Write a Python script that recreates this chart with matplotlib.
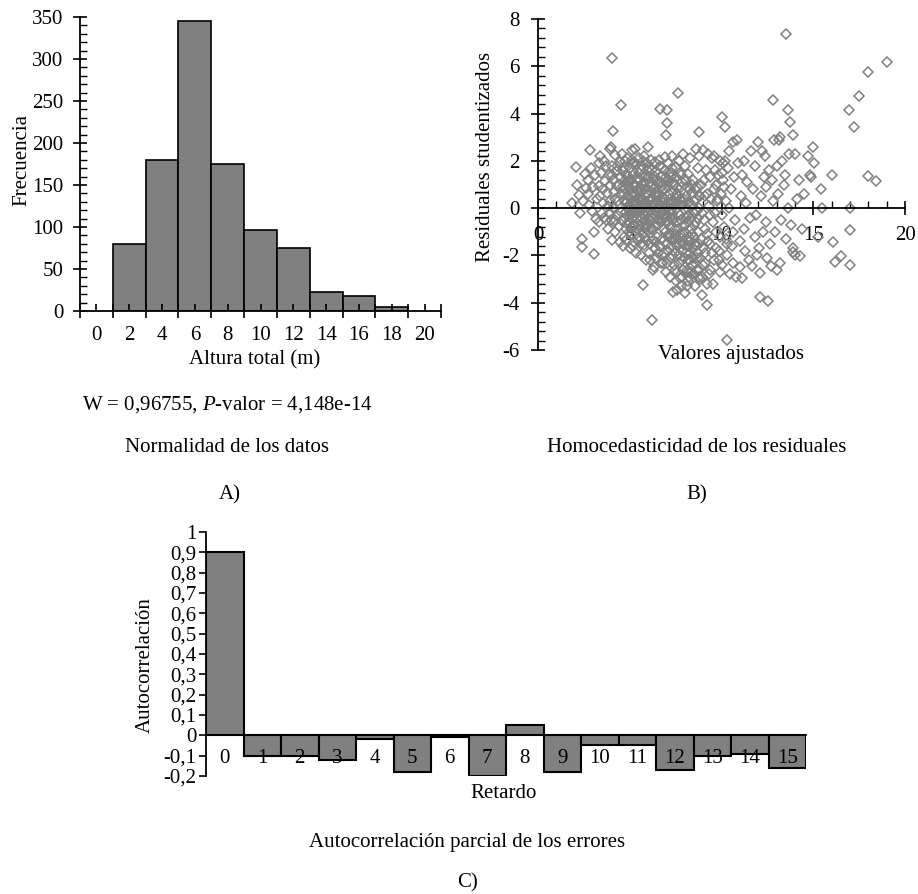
import matplotlib
matplotlib.use("Agg")
import matplotlib.pyplot as plt
from matplotlib.ticker import MultipleLocator

plt.rcParams['font.family'] = ['Liberation Serif', 'DejaVu Serif']
plt.rcParams['axes.unicode_minus'] = False
plt.rcParams['mathtext.fontset'] = 'custom'
plt.rcParams['mathtext.rm'] = 'Liberation Serif'
plt.rcParams['mathtext.it'] = 'Liberation Serif:italic'

# ---------------- data ----------------
# A) histogram of total height
bin_centers = [2, 4, 6, 8, 10, 12, 14, 16, 18]
frequencies = [80, 180, 345, 175, 96, 75, 23, 18, 5]
hist_xticks = [0, 2, 4, 6, 8, 10, 12, 14, 16, 18, 20]

# B) studentized residuals vs fitted values (read off the picture)
fitted = [
    1.83, 2.07, 2.15, 2.25, 2.3, 2.42, 2.42, 2.45, 2.55, 2.6,
    2.7, 2.8, 2.83, 2.9, 3.0, 3.05, 3.05, 3.1, 3.15, 3.2, 2.95, 2.75,
    3.3, 3.3, 3.35, 3.4, 3.45, 3.5, 3.55, 3.6, 3.65, 3.7, 3.75, 3.8, 3.4,
    3.9, 3.95, 4.0, 4.0, 4.03, 4.05, 4.1, 4.1, 4.15, 4.2, 4.2, 4.25, 4.3, 4.3, 3.9, 4.05, 4.1,
    4.35, 4.4, 4.45, 4.5, 4.5, 4.54, 4.55, 4.6, 4.6, 4.65, 4.7, 4.7, 4.75, 4.8, 4.8, 4.45, 4.65,
    4.85, 4.9, 4.9, 4.95, 5.0, 5.0, 5.0, 5.05, 5.1, 5.1, 5.1, 5.15, 5.2, 5.2, 5.25, 5.25,
    5.3, 5.3, 5.35, 5.4, 5.4, 5.45, 5.5, 5.5, 5.55, 5.6, 5.6, 5.65, 5.7, 5.7, 5.7, 5.35,
    5.75, 5.8, 5.8, 5.85, 5.9, 5.9, 5.95, 6.0, 6.0, 6.0, 6.05, 6.1, 6.1, 6.15, 6.15, 5.85,
    6.2, 6.21, 6.25, 6.3, 6.3, 6.35, 6.4, 6.4, 6.45, 6.5, 6.5, 6.55, 6.6, 6.6, 6.25, 6.45,
    6.65, 6.65, 6.7, 6.75, 6.8, 6.8, 6.85, 6.9, 6.9, 6.95, 7.0, 7.0, 7.0, 7.05, 7.05, 7.05, 6.75,
    7.1, 7.1, 7.15, 7.2, 7.2, 7.25, 7.3, 7.3, 7.35, 7.37, 7.4, 7.4, 7.45, 7.5, 7.5, 7.5, 7.25,
    7.55, 7.6, 7.6, 7.65, 7.65, 7.7, 7.75, 7.8, 7.8, 7.85, 7.9, 7.9, 7.95, 7.6, 7.75, 7.85,
    8.0, 8.03, 8.05, 8.1, 8.1, 8.15, 8.2, 8.2, 8.25, 8.3, 8.3, 8.35, 8.4, 8.4, 8.1, 8.25,
    8.45, 8.5, 8.5, 8.55, 8.6, 8.6, 8.65, 8.7, 8.7, 8.75, 8.8, 8.8, 8.85, 8.55, 8.75,
    8.9, 8.96, 9.0, 9.0, 9.05, 9.1, 9.1, 9.15, 9.19, 9.2, 9.25, 9.3, 9.3, 8.95, 9.2,
    9.35, 9.4, 9.45, 9.5, 9.55, 9.55, 9.6, 9.65, 9.7, 9.75, 9.4, 9.6,
    9.8, 9.85, 9.9, 9.95, 10.0, 10.0, 10.05, 10.1, 10.2, 10.2, 10.25, 10.3, 9.9, 10.15,
    10.32, 10.35, 10.4, 10.45, 10.5, 10.55, 10.6, 10.65, 10.7, 10.75, 10.8, 10.85, 10.4, 10.6,
    10.9, 11.0, 11.05, 11.1, 11.1, 11.2, 11.25, 11.3, 11.35, 11.4, 11.5, 11.55, 11.6, 11.0,
    11.65, 11.7, 11.8, 11.85, 11.9, 12.0, 12.05, 12.1, 12.1, 12.15, 12.2, 12.25, 12.3, 11.95,
    12.35, 12.4, 12.45, 12.55, 12.6, 12.65, 12.7, 12.79, 12.8, 12.85, 12.9, 13.0, 12.5, 12.75,
    13.05, 13.1, 13.2, 13.2, 13.25, 13.3, 13.4, 13.5, 13.5, 13.6, 13.64, 13.7, 13.73, 13.8, 13.15, 13.45,
    13.9, 13.9, 13.9, 14.0, 14.0, 14.1, 14.2, 14.3, 14.4, 14.5, 14.7, 14.8, 15.0, 15.06, 15.28, 15.4, 15.5, 14.9,
    16.0, 16.05, 16.2, 16.5, 16.97, 17.0, 17.0, 17.0, 17.2, 17.5, 17.96, 18.0, 18.4, 19.04,
    # dense core
    4.62, 4.68, 4.72, 4.78, 4.82, 4.88, 4.92, 4.98, 4.66, 4.74, 4.86, 4.94,
    5.02, 5.08, 5.12, 5.18, 5.22, 5.28, 5.32, 5.38, 5.05, 5.15, 5.25, 5.35, 5.12, 5.3,
    5.42, 5.48, 5.52, 5.58, 5.62, 5.68, 5.72, 5.78, 5.45, 5.55, 5.65, 5.75, 5.5, 5.7,
    5.82, 5.88, 5.92, 5.98, 6.02, 6.08, 6.12, 6.18, 5.85, 5.95, 6.05, 6.15, 5.9, 6.1,
    6.22, 6.28, 6.32, 6.38, 6.42, 6.48, 6.52, 6.58, 6.25, 6.35, 6.45, 6.55, 6.3, 6.5,
    6.62, 6.68, 6.72, 6.78, 6.82, 6.88, 6.92, 6.98, 6.65, 6.75, 6.85, 6.95, 6.7, 6.9,
    7.02, 7.08, 7.12, 7.18, 7.22, 7.28, 7.32, 7.38, 7.05, 7.15, 7.25, 7.35, 7.1, 7.3,
    7.42, 7.48, 7.52, 7.58, 7.62, 7.68, 7.72, 7.78, 7.45, 7.55, 7.65, 7.75, 7.5, 7.7,
    7.82, 7.88, 7.92, 7.98, 8.02, 8.08, 8.12, 8.18, 8.22, 8.28, 7.85, 8.05, 8.15, 8.25,
    8.32, 8.38, 8.42, 8.48, 8.52, 8.58, 8.62, 8.68, 8.72, 8.78, 8.35, 8.65,
    8.82, 8.88, 8.92, 8.98, 9.02, 9.08, 9.12, 9.22, 9.28, 9.38, 9.48, 9.58,
    9.62, 9.72, 9.82, 9.92, 10.02, 10.12, 10.22, 10.32, 9.68, 9.88, 10.08,
    3.52, 3.62, 3.72, 3.82, 3.92, 4.02, 4.12, 4.22, 4.32, 4.42, 3.85, 4.18,
    4.7, 4.8, 4.9, 5.0, 5.1, 5.2, 4.75, 4.85, 4.95, 5.05, 5.15, 5.25,
    5.3, 5.4, 5.5, 5.6, 5.7, 5.8, 5.35, 5.45, 5.55, 5.65, 5.75, 5.85,
    5.9, 6.0, 6.1, 6.2, 6.3, 6.4, 5.95, 6.05, 6.15, 6.25, 6.35, 6.45,
    6.5, 6.6, 6.7, 6.8, 6.9, 7.0, 6.55, 6.65, 6.75, 6.85, 6.95, 7.05,
    7.1, 7.2, 7.3, 7.4, 7.5, 7.6, 7.15, 7.25, 7.35, 7.45, 7.55, 7.65,
    7.7, 7.8, 7.9, 8.0, 8.1, 8.2, 7.75, 7.85, 7.95, 8.05, 8.15, 8.25,
    8.3, 8.4, 8.5, 8.6, 8.7, 8.8, 8.35, 8.45, 8.55, 8.65, 8.75, 8.85,
]
residuals = [
    0.21, 1.76, 1.0, 0.55, -0.2, -1.31, -1.65, 0.3, 1.45, 0.85,
    1.2, 0.15, 2.46, 1.7, 0.9, -1.03, -1.93, 1.4, -0.45, 0.4, -0.1, 0.6,
    1.9, -0.6, 0.95, 0.5, 1.5, -0.2, 0.2, 2.0, 1.15, -0.5, 0.65, -0.9, 2.2,
    2.5, 0.3, 2.6, -0.5, -1.34, 1.8, 1.2, 0.0, 0.7, -1.0, 2.25, 1.55, -0.3, 0.95, 1.0, 6.34, 3.28,
    0.3, -0.75, 1.95, 1.3, 0.6, 4.35, -0.15, -0.55, 2.3, 0.95, 1.75, -1.2, 0.2, -0.9, 1.4, -1.45, -1.6,
    2.1, 0.5, -0.35, 1.1, -1.69, 1.7, -0.05, 0.8, 2.45, -1.1, 0.25, 1.4, -0.7, 0.55, 1.95, -1.45,
    2.5, 0.1, -1.9, 1.25, -0.45, 0.7, 2.1, -1.2, -0.1, 1.6, -2.0, 0.35, 1.0, -0.8, -3.24, 1.85,
    2.2, -0.3, -1.55, 1.35, 0.6, -2.2, 1.9, 2.6, 0.05, -0.95, -1.9, 1.1, -0.55, 0.4, 2.05, -1.2,
    1.6, -4.72, -1.35, 0.8, -2.5, 0.15, 1.95, -0.7, -2.1, 1.2, -1.2, 0.5, 2.05, -0.25, -2.6, 1.55,
    4.18, -1.6, 0.9, 1.7, -0.1, -2.3, 0.45, 2.15, -1.0, 1.3, -2.7, 3.1, 0.0, 4.15, 3.59, -0.6, -2.0,
    1.9, -1.8, 0.6, -0.4, -2.9, 1.3, 2.2, -1.3, 0.2, -3.55, -2.4, 1.0, -0.9, 1.75, -3.1, 0.45, -2.1,
    -1.6, 0.85, -2.7, 4.86, -0.2, 2.0, -1.1, 1.4, -3.3, -2.2, 0.3, 2.3, -0.7, -3.45, -2.95, 1.1,
    1.8, -3.59, -0.4, 0.9, -2.6, -1.4, 1.45, -3.1, 0.25, -1.9, 2.1, -0.9, 0.6, -2.4, -3.3, -2.9,
    1.2, -0.2, -2.8, -1.5, 2.5, 0.4, -2.1, 1.7, -1.0, 0.0, 3.24, -2.6, -3.0, -3.3, 2.2,
    1.0, -3.66, 2.45, -1.7, -0.5, 0.5, -2.3, 1.6, -4.08, -1.1, 2.3, 0.1, -2.8, -2.9, -3.2,
    -1.5, 1.3, 0.4, 2.1, -3.2, -0.6, -2.2, 1.6, -1.0, 0.3, -2.6, 2.2,
    1.4, -1.8, 2.0, 0.6, 3.85, -0.3, -2.4, 1.2, 3.45, 2.0, -1.3, -2.0, -2.7, 0.9,
    -5.56, 1.7, 2.4, -2.8, 0.8, -1.6, 2.8, -2.3, 1.3, -0.5, -2.9, 2.9, 0.0, -1.0,
    1.9, -2.5, 0.5, -2.96, 1.4, -0.9, 2.0, -1.8, 0.2, 1.1, -2.2, -0.4, 2.4, -1.4,
    -2.46, 0.8, -1.2, 1.8, -0.3, 2.8, -1.7, -3.77, -2.75, 0.5, 2.4, -1.0, 1.3, -2.0,
    2.2, -0.6, 0.9, -3.94, 1.6, -1.5, -2.46, 4.58, 0.3, 2.9, -1.0, -2.6, -2.1, 1.2,
    1.8, 0.6, 3.03, -2.32, -0.5, 2.0, 1.0, 7.35, -1.3, 0.0, 4.15, 2.3, 3.66, -0.7, 2.9, 1.4,
    3.1, -1.69, -1.87, -1.97, 2.3, 0.4, 1.2, -2.04, -0.9, 0.6, 2.2, 1.4, 2.6, 1.9, -1.2, 0.8, 0.0, 1.3,
    1.41, -1.45, -2.28, -2.04, 4.13, 0.0, -0.92, -2.4, 3.42, 4.76, 1.34, 5.77, 1.13, 6.2,
    # dense core
    1.55, 0.35, -0.4, 1.05, -1.35, 0.0, 1.35, -0.6, 0.8, 2.0, 0.25, -1.0,
    1.2, -0.3, 0.6, 1.85, -0.15, 1.0, -1.1, 0.4, -0.8, -1.6, 0.25, -0.1, 2.05, -0.7,
    0.2, 1.5, -0.7, 0.9, -1.5, 1.8, 0.1, -1.0, -1.3, 1.2, -0.4, 0.55, 0.0, 2.0,
    0.8, -0.8, 1.6, -0.2, 1.3, 0.3, -1.5, -0.9, 0.2, -1.4, 1.7, 0.95, -0.5, -2.2,
    0.45, -0.9, 1.35, -1.7, 0.9, 0.0, -0.5, 1.1, 1.0, -0.3, -1.45, -1.9, 0.2, 0.7,
    0.6, -0.6, 1.3, -1.3, 0.2, -1.9, 0.8, -0.3, 1.8, 0.35, -0.9, -1.5, -2.3, 1.6,
    0.9, -1.2, -0.1, 1.5, -0.8, 0.3, -2.0, 0.7, -2.3, 1.1, -1.6, -0.5, -0.6, 1.7,
    0.1, -1.9, 1.3, -0.6, 0.5, -2.3, -0.3, 0.9, -2.6, 0.0, -1.3, 1.5, -1.1, -2.0,
    -0.5, -1.5, -2.6, 0.4, -1.0, -1.9, 0.0, -2.7, -1.2, 0.8, -2.9, 1.2, -0.6, -2.2,
    -0.4, 1.0, -1.7, 0.3, -1.2, -2.3, -0.6, 0.9, -1.9, -2.9, -2.7, -0.1,
    0.5, -1.3, -0.2, -2.4, 1.2, -0.9, -1.9, 0.6, -1.4, -0.3, -1.9, 0.8,
    -0.2, 1.0, 0.4, -1.2, 1.5, -0.8, 0.3, -1.5, -1.7, -2.2, 1.9,
    0.8, -0.4, 1.8, 0.1, -0.2, 1.4, -0.6, 0.4, 1.8, 1.0, 1.4, -0.5,
    0.6, -0.15, 0.95, 0.45, -0.45, 1.55, 1.2, -0.65, 0.15, -0.2, 1.0, -0.35,
    0.55, -0.2, 0.85, -0.1, 0.35, 1.1, 0.95, -0.9, 0.4, 1.35, -0.55, -0.1,
    0.25, 0.6, -0.1, -0.4, 1.2, 0.5, -0.7, -0.4, 0.35, 0.1, 0.6, -0.15,
    0.3, 0.15, -0.25, 0.75, 0.4, -0.35, -0.7, 1.05, -0.55, -0.4, 0.1, 1.2,
    0.25, 0.4, -0.25, -0.4, -1.5, 0.2, -1.1, -0.05, 1.1, -1.3, 0.6, -0.9,
    -1.5, 0.15, -1.1, -0.7, -1.6, -0.3, 0.4, -1.8, -2.1, 0.5, -2.2, -1.6,
    -1.4, -1.1, -0.7, -1.6, -0.4, -1.5, 0.1, -2.1, 0.8, -2.6, 0.5, -2.1,
]

# C) partial autocorrelation of the errors
lags = list(range(16))
pacf = [0.90, -0.10, -0.10, -0.12, -0.02, -0.18, -0.01, -0.20, 0.05,
        -0.18, -0.05, -0.05, -0.17, -0.10, -0.09, -0.16]
acf_yticks = [-0.2, -0.1, 0.0, 0.1, 0.2, 0.3, 0.4, 0.5, 0.6, 0.7, 0.8, 0.9, 1.0]

# ---------------- figure ----------------
FS = 15
W, H = 918, 894
fig = plt.figure(figsize=(W / 100, H / 100), dpi=100)
GREY = '#808080'


def px_axes(l, t, r, b):
    return fig.add_axes([l / W, 1 - b / H, (r - l) / W, (b - t) / H])


def ftext(x, y, s, **kw):
    kw.setdefault('ha', 'center')
    fig.text(x / W, 1 - y / H, s, fontsize=FS, va='center', **kw)


def style_spines(ax):
    ax.spines['top'].set_visible(False)
    ax.spines['right'].set_visible(False)
    ax.spines['left'].set_linewidth(1.3)
    ax.spines['bottom'].set_linewidth(1.3)


# A) histogram
ax1 = px_axes(80, 17, 441, 311)
ax1.bar(bin_centers, frequencies, width=2, color=GREY, edgecolor='black', linewidth=1.2)
ax1.set_xlim(-1, 21)
ax1.set_ylim(0, 350)
style_spines(ax1)
ax1.set_xticks(hist_xticks)
ax1.set_xticks([v - 1 for v in hist_xticks] + [21], minor=True)
ax1.tick_params(axis='x', which='major', direction='in', length=5, width=1.2,
                labelsize=FS, pad=11)
ax1.tick_params(axis='x', which='minor', direction='inout', length=10, width=1.2)
ax1.yaxis.set_major_locator(MultipleLocator(50))
ax1.yaxis.set_minor_locator(MultipleLocator(10))
ax1.tick_params(axis='y', which='major', direction='inout', length=10, width=1.2,
                labelsize=FS, pad=7)
ax1.tick_params(axis='y', which='minor', direction='in', length=5, width=1.0)

ftext(22, 160, 'Frecuencia', rotation=90)
ftext(255, 360, 'Altura total (m)')
ftext(82, 405, 'W = 0,96755, $\\mathit{P}$-valor = 4,148e-14', ha='left')
ftext(227, 448, 'Normalidad de los datos')
ftext(230, 495, 'A)')

# B) residuals scatter
ax2 = px_axes(538, 19, 905, 350)
ax2.plot(fitted, residuals, linestyle='none', marker='D', ms=5.5, mfc='none',
         mec=GREY, mew=1.1, clip_on=False)
ax2.set_xlim(0, 20)
ax2.set_ylim(-6, 8)
style_spines(ax2)
ax2.spines['bottom'].set_position(('data', 0))
ax2.xaxis.set_major_locator(MultipleLocator(5))
ax2.xaxis.set_minor_locator(MultipleLocator(1))
ax2.yaxis.set_major_locator(MultipleLocator(2))
ax2.yaxis.set_minor_locator(MultipleLocator(0.4))
ax2.tick_params(axis='x', which='major', direction='inout', length=10, width=1.2,
                labelsize=FS, pad=8)
ax2.tick_params(axis='x', which='minor', direction='in', length=5, width=1.0)
ax2.tick_params(axis='y', which='major', direction='inout', length=10, width=1.2,
                labelsize=FS, pad=8)
ax2.tick_params(axis='y', which='minor', direction='in', length=5, width=1.0)

ftext(485, 157, 'Residuales studentizados', rotation=90)
ftext(731, 355, 'Valores ajustados')
ftext(697, 448, 'Homocedasticidad de los residuales')
ftext(697, 495, 'B)')

# C) PACF bars
ax3 = px_axes(206, 532, 806, 776)
ax3.bar(lags, pacf, width=1, color=GREY, edgecolor='black', linewidth=1.5)
ax3.set_xlim(-0.5, 15.5)
ax3.set_ylim(-0.2, 1.0)
style_spines(ax3)
ax3.spines['bottom'].set_position(('data', 0))
ax3.set_xticks(lags)
ax3.set_xticklabels([str(l) for l in lags])
ax3.tick_params(axis='x', length=0, labelsize=FS, pad=10)
ax3.set_yticks(acf_yticks)
ax3.set_yticklabels([('%g' % v).replace('.', ',') for v in acf_yticks])
ax3.tick_params(axis='y', direction='out', length=5, width=1.2, labelsize=FS, pad=2)

ftext(145, 665, 'Autocorrelación', rotation=90)
ftext(504, 793, 'Retardo')
ftext(467, 842, 'Autocorrelación parcial de los errores')
ftext(467, 883, 'C)')

fig.savefig('out.png', dpi=100)
